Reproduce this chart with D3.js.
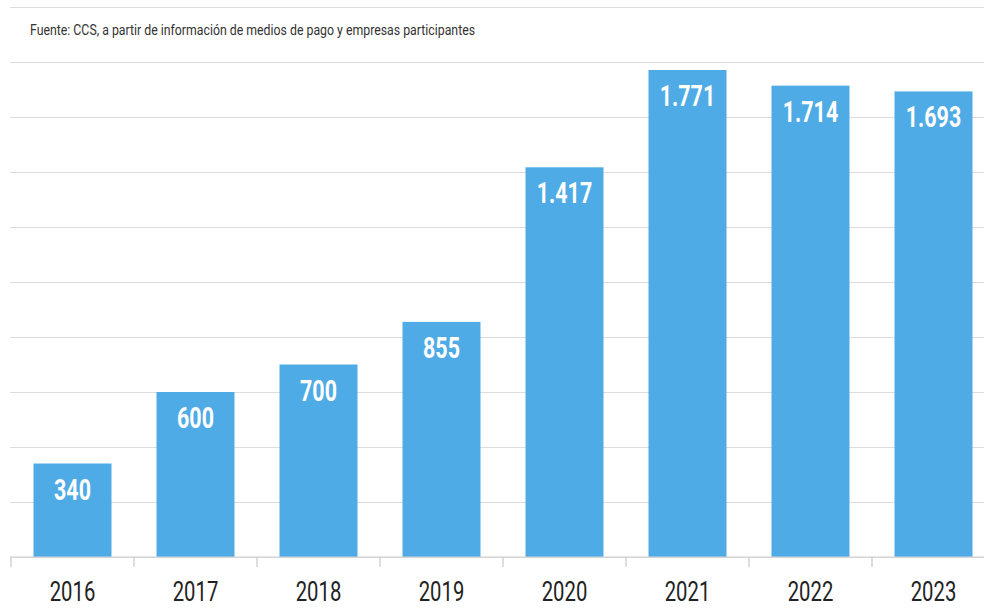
<!DOCTYPE html>
<html><head><meta charset="utf-8">
<script src="https://cdn.jsdelivr.net/npm/d3@7"></script>
<style>
html,body{margin:0;padding:0;background:#fff;}
svg{display:block;}
text{font-family:Roboto,"Liberation Sans",sans-serif;}
</style></head>
<body>
<svg id="chart" width="984" height="608"></svg>
<script>
const years = ["2016","2017","2018","2019","2020","2021","2022","2023"];
const values = [340, 600, 700, 855, 1417, 1771, 1714, 1693];
const labels = ["340","600","700","855","1.417","1.771","1.714","1.693"];
const gridTicks = [0,200,400,600,800,1000,1200,1400,1600,1800,2000];
const source = "Fuente: CCS, a partir de información de medios de pago y empresas participantes";

const svg = d3.select("#chart");
const W = 984;
const x = d3.scaleBand().domain(years).range([11, 995]).paddingInner(0.366).paddingOuter(0.183);
const y = d3.scaleLinear().domain([0, 2000]).range([557, 7]);
const SX = 0.74;

// gridlines
const g = svg.append("g").attr("transform", "translate(10,0)")
  .call(d3.axisLeft(y).tickValues(gridTicks).tickSize(-(W - 10)).tickFormat(""));
g.select(".domain").remove();
g.selectAll(".tick line").attr("stroke", "#dcdcdc").attr("stroke-width", 1.2);

// source text
svg.append("text").attr("font-size", 14).attr("fill", "#333")
  .attr("transform", "translate(30,35) scale(0.88,1)")
  .text(source);

// bars
svg.append("g").selectAll("rect").data(years).join("rect")
  .attr("x", d => x(d)).attr("width", x.bandwidth())
  .attr("y", (d,i) => y(values[i])).attr("height", (d,i) => y(0) - y(values[i]))
  .attr("fill", "#4fabe5");

// value labels
svg.append("g").selectAll("text").data(years).join("text")
  .attr("transform", (d,i) => `translate(${x(d) + x.bandwidth()/2},${y(values[i]) + 36}) scale(${SX},1)`)
  .attr("text-anchor", "middle").attr("font-size", 29).attr("font-weight", "bold")
  .attr("fill", "#fff")
  .text((d,i) => labels[i]);

// x axis
const step = x.step();
const xa = svg.append("g").attr("transform", "translate(0,557)")
  .call(d3.axisBottom(x).tickSize(0).tickFormat(""));
xa.select(".domain").remove();
xa.selectAll(".tick").append("text")
  .attr("transform", `translate(0,44) scale(0.78,1.06)`)
  .attr("text-anchor", "middle").attr("font-size", 26).attr("fill", "#222")
  .text(d => d);
xa.append("line").attr("x1", 10).attr("x2", W).attr("y1", 0).attr("y2", 0)
  .attr("stroke", "#d0d0d0").attr("stroke-width", 1.2);
xa.selectAll(".bt").data(years).join("line").attr("class", "bt")
  .attr("x1", d => x(d) - (step - x.bandwidth())/2)
  .attr("x2", d => x(d) - (step - x.bandwidth())/2)
  .attr("y1", 0).attr("y2", 10).attr("stroke", "#c8c8c8").attr("stroke-width", 1.2);
</script>
</body></html>
